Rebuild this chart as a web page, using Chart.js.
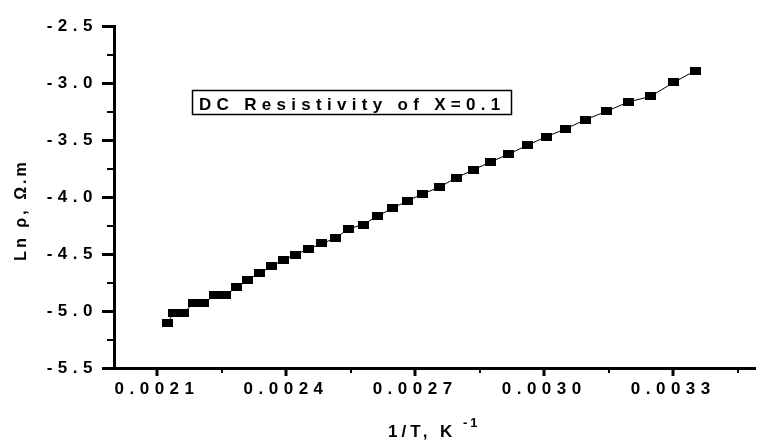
<!DOCTYPE html>
<html>
<head>
<meta charset="utf-8">
<script src="https://cdn.jsdelivr.net/npm/chart.js@4"></script>
<style>
  html, body { margin: 0; padding: 0; background: #fff; }
  #wrap { width: 760px; height: 442px; position: relative; }
</style>
</head>
<body>
<div id="wrap"><canvas id="resistivityChart"></canvas></div>
<script>
const invT = [
  0.002125, 0.002139, 0.002162, 0.002185, 0.002209, 0.002234, 0.002259,
  0.002285, 0.002311, 0.002339, 0.002366, 0.002394, 0.002421, 0.002452,
  0.002483, 0.002514, 0.002545, 0.002579, 0.002612, 0.002647, 0.002682,
  0.002718, 0.002756, 0.002795, 0.002835, 0.002875, 0.002918, 0.002961,
  0.003005, 0.00305, 0.003096, 0.003145, 0.003196, 0.003247, 0.003301,
  0.003351,
];
const lnRho = [
  -5.101, -5.014, -5.014, -4.932, -4.932, -4.86, -4.86, -4.79, -4.726,
  -4.665, -4.607, -4.551, -4.505, -4.456, -4.407, -4.363, -4.279, -4.241,
  -4.168, -4.098, -4.034, -3.971, -3.914, -3.831, -3.762, -3.692, -3.622,
  -3.544, -3.47, -3.401, -3.32, -3.247, -3.165, -3.116, -2.994, -2.89,
];

const xMajorTicks = [0.0021, 0.0024, 0.0027, 0.003, 0.0033];
const xMinorTicks = [0.00225, 0.00255, 0.00285, 0.00315, 0.00345];
const yMajorTicks = [-5.5, -5.0, -4.5, -4.0, -3.5, -3.0, -2.5];
const yMinorTicks = [-5.25, -4.75, -4.25, -3.75, -3.25, -2.75];

const chartTitle = "DC Resistivity of X=0.1";
const xTitle = "1/T, K";
const xTitleSup = "-1";
const yTitle = "Ln ρ, Ω.m";

const ctx = document.getElementById("resistivityChart");
const labelFont = { family: "'Liberation Sans', Arial, sans-serif", size: 17, weight: "bold" };

// wide flat square marker like the original
function makeMarker() {
  const c = document.createElement("canvas");
  c.width = 11;
  c.height = 8;
  const g = c.getContext("2d");
  g.fillStyle = "#000";
  g.fillRect(0, 0, 11, 8);
  return c;
}

const points = invT.map((x, i) => ({ x: x, y: lnRho[i] }));

// spaced-out lettering, tick marks, titles and the caption box
const decorPlugin = {
  id: "decor",
  beforeDraw(chart) {
    chart.ctx.letterSpacing = "5.5px";
  },
  afterDraw(chart) {
    const c = chart.ctx;
    const area = chart.chartArea;
    const xs = chart.scales.x;
    const ys = chart.scales.y;
    c.save();
    c.strokeStyle = "#000";

    c.lineWidth = 3;
    yMajorTicks.forEach((v) => {
      const p = Math.round(ys.getPixelForValue(v)) + 0.5;
      c.beginPath(); c.moveTo(area.left - 12, p); c.lineTo(area.left, p); c.stroke();
    });
    xMajorTicks.forEach((v) => {
      const p = Math.round(xs.getPixelForValue(v));
      c.beginPath(); c.moveTo(p, area.bottom); c.lineTo(p, area.bottom + 8); c.stroke();
    });
    c.lineWidth = 2;
    yMinorTicks.forEach((v) => {
      const p = Math.round(ys.getPixelForValue(v));
      c.beginPath(); c.moveTo(area.left - 7, p); c.lineTo(area.left, p); c.stroke();
    });
    xMinorTicks.forEach((v) => {
      const p = Math.round(xs.getPixelForValue(v));
      c.beginPath(); c.moveTo(p, area.bottom); c.lineTo(p, area.bottom + 5); c.stroke();
    });

    c.fillStyle = "#000";
    c.textBaseline = "alphabetic";

    // x title with superscript
    c.letterSpacing = "4px";
    c.font = "bold 17px 'Liberation Sans', Arial, sans-serif";
    c.textAlign = "left";
    c.fillText(xTitle, 388, 437);
    c.letterSpacing = "3px";
    c.font = "bold 13px 'Liberation Sans', Arial, sans-serif";
    c.fillText(xTitleSup, 463, 427);

    // y title
    c.save();
    c.translate(26, 210);
    c.rotate(-Math.PI / 2);
    c.letterSpacing = "3px";
    c.font = "bold 16px 'Liberation Sans', Arial, sans-serif";
    c.textAlign = "center";
    c.fillText(yTitle, 0, 0);
    c.restore();

    // caption box
    c.lineWidth = 1.5;
    c.strokeRect(192.5, 90.5, 319, 24);
    c.letterSpacing = "5.3px";
    c.font = "bold 17px 'Liberation Sans', Arial, sans-serif";
    c.textAlign = "left";
    c.fillText(chartTitle, 199, 110);

    c.restore();
  },
};

new Chart(ctx, {
  type: "scatter",
  data: {
    datasets: [
      {
        data: points,
        showLine: true,
        borderColor: "#000",
        borderWidth: 1,
        pointStyle: makeMarker(),
        backgroundColor: "#000",
      },
    ],
  },
  plugins: [decorPlugin],
  options: {
    responsive: true,
    maintainAspectRatio: false,
    animation: false,
    layout: { padding: { top: 24, left: 0, right: 0, bottom: 0 } },
    plugins: {
      legend: { display: false },
      tooltip: { enabled: false },
    },
    scales: {
      x: {
        type: "linear",
        min: 0.002,
        max: 0.00349,
        afterFit(scale) {
          scale.height = 74;
        },
        afterBuildTicks(scale) {
          scale.ticks = xMajorTicks.map((v) => ({ value: v }));
        },
        grid: { display: false, drawTicks: false },
        border: { display: true, width: 3, color: "#000" },
        ticks: {
          autoSkip: false,
          maxRotation: 0,
          padding: 11,
          color: "#000",
          font: labelFont,
          callback(value) {
            return value.toFixed(4);
          },
        },
      },
      y: {
        type: "linear",
        min: -5.5,
        max: -2.5,
        afterFit(scale) {
          scale.width = 114;
        },
        afterBuildTicks(scale) {
          scale.ticks = yMajorTicks.map((v) => ({ value: v }));
        },
        grid: { display: false, drawTicks: false },
        border: { display: true, width: 3, color: "#000" },
        ticks: {
          padding: 16,
          color: "#000",
          font: labelFont,
          callback(value) {
            return value.toFixed(1);
          },
        },
      },
    },
  },
});
</script>
</body>
</html>
